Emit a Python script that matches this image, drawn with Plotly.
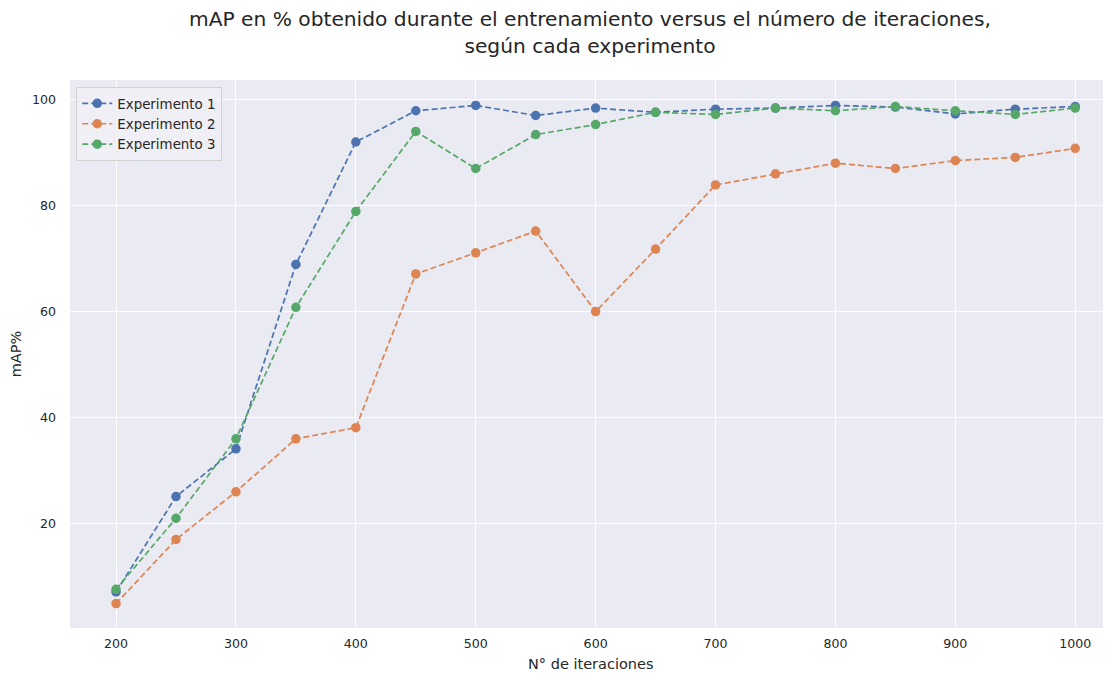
import plotly.graph_objects as go

iteraciones = [200, 250, 300, 350, 400, 450, 500, 550, 600, 650, 700, 750, 800, 850, 900, 950, 1000]
exp1 = [7.1, 25.1, 34.1, 68.9, 92.0, 97.9, 98.9, 97.0, 98.4, 97.6, 98.2, 98.4, 98.9, 98.6, 97.3, 98.2, 98.7]
exp2 = [4.9, 17.0, 26.0, 36.0, 38.1, 67.1, 71.1, 75.2, 60.0, 71.8, 83.9, 86.0, 88.0, 87.0, 88.5, 89.1, 90.8]
exp3 = [7.6, 21.0, 36.0, 60.8, 78.9, 94.0, 87.0, 93.4, 95.3, 97.6, 97.2, 98.4, 97.9, 98.7, 97.9, 97.2, 98.4]
nombres = ["Experimento 1", "Experimento 2", "Experimento 3"]
colores = ["#4C72B0", "#DD8452", "#55A868"]
xticks = [200, 300, 400, 500, 600, 700, 800, 900, 1000]
yticks = [20, 40, 60, 80, 100]

fig = go.Figure()
for nombre, serie, color in zip(nombres, [exp1, exp2, exp3], colores):
    fig.add_trace(go.Scatter(
        x=iteraciones, y=serie, name=nombre, mode="lines+markers",
        line=dict(color=color, width=1.7, dash="6px,3px"),
        marker=dict(color=color, size=9.5),
    ))

fig.update_layout(
    width=1103, height=667,
    margin=dict(l=62, r=1, t=72, b=47),
    paper_bgcolor="white", plot_bgcolor="#EAEAF2",
    font=dict(family="DejaVu Sans", size=12.6, color="#262626"),
    title=dict(
        text="mAP en % obtenido durante el entrenamiento versus el número de iteraciones,<br>según cada experimento",
        x=0.5, xref="paper", xanchor="center", yref="container", y=0.9723, yanchor="top",
        font=dict(size=20.2, color="#262626"),
    ),
    xaxis=dict(
        range=[161.6, 1029], tickvals=xticks, showgrid=True, gridcolor="white", gridwidth=1.3,
        zeroline=False, showline=False, ticks="", ticklabelstandoff=6, automargin=False,
    ),
    yaxis=dict(
        range=[0.3, 103.7], tickvals=yticks, showgrid=True, gridcolor="white", gridwidth=1.3,
        zeroline=False, showline=False, ticks="", ticklabelstandoff=13, automargin=False,
        title=dict(text="mAP%", font=dict(size=14.5), standoff=10),
    ),
    legend=dict(
        x=0.006, y=0.987, xanchor="left", yanchor="top",
        bgcolor="rgba(240,240,246,0.85)", bordercolor="#D0D0D0", borderwidth=1,
        font=dict(size=13.4), tracegroupgap=0, itemwidth=30,
    ),
    annotations=[dict(
        text="N° de iteraciones", xref="paper", yref="paper", x=0.5, y=-0.065,
        xanchor="center", yanchor="middle", showarrow=False, font=dict(size=14.5),
    )],
    showlegend=True,
)

fig.write_html("out.html")
